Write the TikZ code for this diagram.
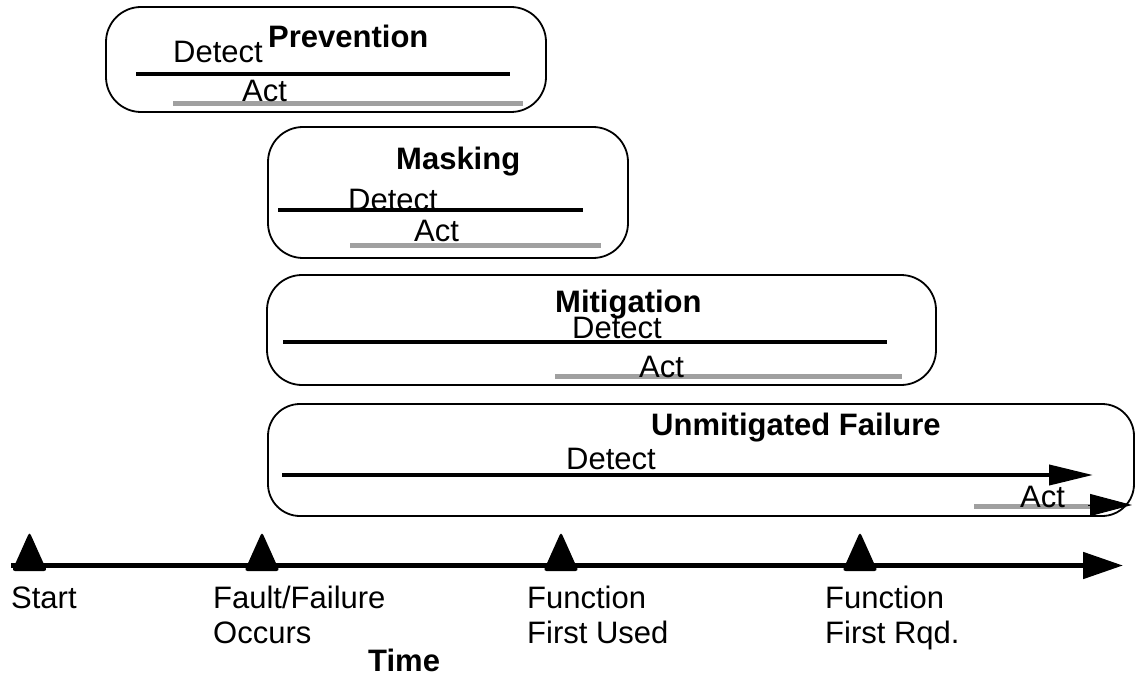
\documentclass[tikz,border=0pt]{standalone}
\usepackage{fontspec}
\setmainfont{Liberation Sans}
\usetikzlibrary{arrows.meta}
\definecolor{actgray}{RGB}{160,160,160}
\begin{document}
\begin{tikzpicture}[x=1pt,y=-1pt,
  box/.style={draw, line width=1.8pt, rounded corners=35pt, inner sep=0pt, shape=rectangle},
  lbl/.style={font=\fontsize{31}{35}\selectfont, inner sep=0pt, anchor=base west},
  ttl/.style={font=\fontsize{31}{35}\selectfont\bfseries, inner sep=0pt, anchor=base west},
  detline/.style={line width=4pt},
  actline/.style={line width=5pt, draw=actgray},
  tipline/.style={line width=4pt, -{Triangle[length=44pt,width=20pt]}},
  marker/.style={fill=black, rounded corners=3pt},
]
\useasboundingbox (0,0) rectangle (1135,679);

% boxes
\node[box, minimum width=440pt, minimum height=105pt] (prevbox) at (326,59.5) {};
\node[box, minimum width=360pt, minimum height=131pt] (maskbox) at (448,192.5) {};
\node[box, minimum width=669pt, minimum height=110pt] (mitbox) at (601.5,330) {};
\node[box, minimum width=866pt, minimum height=112pt, rounded corners=32pt] (unbox) at (701,460) {};

% line end points
\coordinate (pd1) at (136,74.5);  \coordinate (pd2) at (510,74.5);
\coordinate (pa1) at (173,104);   \coordinate (pa2) at (523,104);
\coordinate (md1) at (278,210.5); \coordinate (md2) at (583,210.5);
\coordinate (ma1) at (350,245.5); \coordinate (ma2) at (601,245.5);
\coordinate (gd1) at (283,341.5); \coordinate (gd2) at (887,341.5);
\coordinate (ga1) at (555,376.5); \coordinate (ga2) at (902,376.5);
\coordinate (ud1) at (282,475);   \coordinate (ud2) at (1093,475);
\coordinate (ua1) at (974,506.5); \coordinate (ua2) at (1090,506.5);
\coordinate (ut1) at (1088,505);  \coordinate (ut2) at (1132,505);

\draw[detline] (pd1) -- (pd2);
\draw[actline] (pa1) -- (pa2);
\draw[detline] (md1) -- (md2);
\draw[actline] (ma1) -- (ma2);
\draw[detline] (gd1) -- (gd2);
\draw[actline] (ga1) -- (ga2);
\draw[tipline] (ud1) -- (ud2);
\draw[actline] (ua1) -- (ua2);
\draw[line width=1pt, -{Triangle[length=42pt,width=22pt]}] (ut1) -- (ut2);

% texts
\node[ttl] (prevt) at (268,48) {Prevention};
\node[lbl] (prevd) at (173,63) {Detect};
\node[lbl] (preva) at (242,102) {Act};
\node[ttl] (maskt) at (396,170) {Masking};
\node[lbl] (maskd) at (348,211) {Detect};
\node[lbl] (maska) at (414,241) {Act};
\node[ttl] (mitt) at (555,312) {Mitigation};
\node[lbl] (mitd) at (572,338) {Detect};
\node[lbl] (mita) at (639,377) {Act};
\node[ttl] (unt) at (651,435) {Unmitigated Failure};
\node[lbl] (und) at (566,469) {Detect};
\node[lbl] (una) at (1020,507) {Act};

% timeline
\coordinate (tl0) at (11,565.5);
\coordinate (tl1) at (1123,565.5);
\draw[line width=5pt, -{Triangle[length=40pt,width=26pt]}] (tl0) -- (tl1);
\foreach \name/\xx in {mstart/29.5, mfault/262, mused/561, mrqd/860}{
  \coordinate (\name) at (\xx,532);
  \fill[marker] (\xx-17.5,571) -- (\name) -- (\xx+17.5,571) -- cycle;
}

\node[lbl] (start) at (11,608) {Start};
\node[lbl] (fault1) at (213,608) {Fault/Failure};
\node[lbl] (fault2) at (213,643) {Occurs};
\node[lbl] (used1) at (527,608) {Function};
\node[lbl] (used2) at (527,643) {First Used};
\node[lbl] (rqd1) at (825,608) {Function};
\node[lbl] (rqd2) at (825,643) {First Rqd.};
\node[ttl] (time) at (368,671) {Time};
\end{tikzpicture}
\end{document}
